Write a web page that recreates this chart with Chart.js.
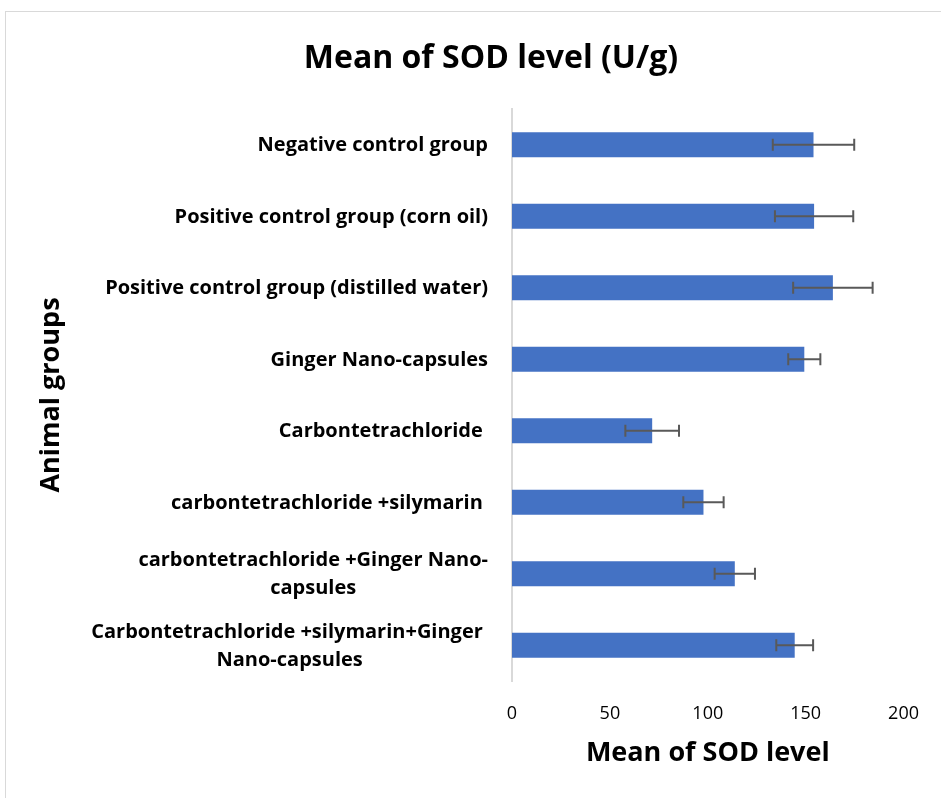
<!DOCTYPE html>
<html>
<head>
<meta charset="utf-8">
<script src="https://cdn.jsdelivr.net/npm/chart.js@4"></script>
<style>
  body { margin: 0; background: #fff; overflow: hidden; }
  #box { position: absolute; left: 5px; top: 11px; width: 935px; height: 787px; border: 1px solid #d9d9d9; }
</style>
</head>
<body>
<div id="box"><canvas id="chart" width="935" height="787"></canvas></div>
<script>
const groups = [
    ["Negative control group"],
    ["Positive control group (corn oil)"],
    ["Positive control group (distilled water)"],
    ["Ginger Nano-capsules"],
    ["Carbontetrachloride "],
    ["carbontetrachloride +silymarin "],
    ["carbontetrachloride +Ginger Nano-", "capsules"],
    ["Carbontetrachloride +silymarin+Ginger ", "Nano-capsules"]
];
const sodMean = [154, 154.3, 163.9, 149.3, 71.6, 97.8, 113.8, 144.4];
const sodError = [20.8, 20, 20.3, 8.2, 13.7, 10.3, 10.3, 9.4];
const xTicks = [0, 50, 100, 150, 200];

const FONT = "'Open Sans'";

// error bars drawn from the scales
const errorBars = {
    id: 'errorBars',
    afterDatasetsDraw(chart) {
        const c = chart.ctx, xs = chart.scales.x, ys = chart.scales.y;
        c.save();
        c.strokeStyle = '#595959';
        c.lineWidth = 2;
        sodMean.forEach((v, i) => {
            const y = ys.getPixelForValue(i);
            const x1 = xs.getPixelForValue(v - sodError[i]);
            const x2 = xs.getPixelForValue(v + sodError[i]);
            c.beginPath();
            c.moveTo(x1, y); c.lineTo(x2, y);
            c.moveTo(x1, y - 6); c.lineTo(x1, y + 6);
            c.moveTo(x2, y - 6); c.lineTo(x2, y + 6);
            c.stroke();
        });
        c.restore();
    }
};

// category labels: block right aligned, lines centred in the block
const groupLabels = {
    id: 'groupLabels',
    afterDraw(chart) {
        const c = chart.ctx, ys = chart.scales.y;
        const right = chart.chartArea.left - 24;
        c.save();
        c.font = "bold 20px " + FONT;
        c.fillStyle = '#000';
        c.textBaseline = 'middle';
        c.textAlign = 'center';
        groups.forEach((lines, i) => {
            const y = ys.getPixelForValue(i) + 1;
            const w = Math.max(...lines.map(l => c.measureText(l).width));
            const cx = right - w / 2;
            const lh = 28;
            lines.forEach((l, k) => {
                c.fillText(l, cx, y + (k - (lines.length - 1) / 2) * lh);
            });
        });
        c.font = "bold 32px " + FONT;
        c.fillText("Mean of SOD level (U/g)", 485, 47);
        c.restore();
    }
};

new Chart(document.getElementById("chart"), {
    type: "bar",
    data: {
        labels: groups.map(g => g.join(" ")),
        datasets: [{
            data: sodMean,
            backgroundColor: '#4472C4',
            categoryPercentage: 1,
            barPercentage: 0.35
        }]
    },
    options: {
        indexAxis: 'y',
        responsive: false,
        animation: false,
        layout: { padding: { top: 97, right: 34.5, left: 0, bottom: 0 } },
        plugins: {
            legend: { display: false },
            tooltip: { enabled: false }
        },
        scales: {
            x: {
                min: 0, max: 200,
                afterBuildTicks(scale) { scale.ticks = xTicks.map(v => ({ value: v })); },
                afterFit(scale) { scale.height = 118; },
                grid: { display: false, drawTicks: false },
                border: { display: false },
                ticks: { color: '#000', font: { family: FONT, size: 18 }, padding: 22 },
                title: {
                    display: true, text: "Mean of SOD level", color: '#000',
                    font: { family: FONT, size: 27, weight: 'bold' },
                    padding: { top: 29, bottom: 29 }
                }
            },
            y: {
                afterFit(scale) { scale.width = 506; },
                grid: { display: false, drawTicks: false },
                border: { display: true, color: '#d9d9d9', width: 2 },
                ticks: { display: false },
                title: {
                    display: true, text: "Animal groups", color: '#000',
                    font: { family: FONT, size: 27, weight: 'bold' },
                    padding: { top: 29, bottom: 29 }
                }
            }
        }
    },
    plugins: [errorBars, groupLabels]
});
</script>
</body>
</html>
